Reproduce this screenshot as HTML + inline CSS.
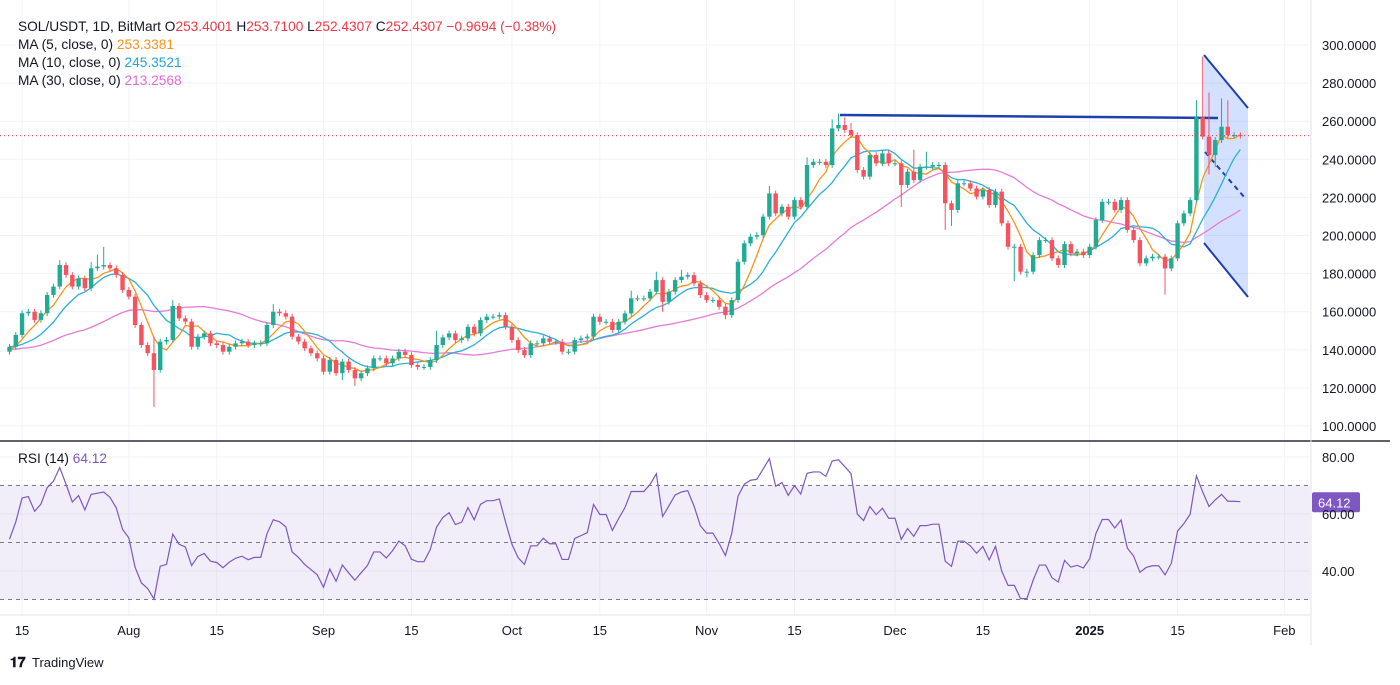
<!DOCTYPE html>
<html><head><meta charset="utf-8">
<style>
html,body{margin:0;padding:0;background:#fff;}
body{width:1400px;height:680px;overflow:hidden;font-family:"Liberation Sans",sans-serif;}
svg text{font-family:"Liberation Sans",sans-serif;}
</style></head>
<body>
<svg id="chart" width="1400" height="680" viewBox="0 0 1400 680">
  <rect x="0" y="0" width="1400" height="680" fill="#ffffff"/>
  <g id="grid"></g>
  <rect x="0" y="485.5" width="1310" height="114" fill="rgba(126,87,194,0.1)"/>
  <g id="pattern"></g>
  <g id="mas"></g>
  <g id="candles"></g>
  <g id="rsi"></g>
  <g id="axes"></g>
  <g id="legend">
    <text x="18" y="31" font-size="13.7" fill="#131722">SOL/USDT, 1D, BitMart <tspan fill="#131722">O</tspan><tspan fill="#f23645">253.4001</tspan> <tspan>H</tspan><tspan fill="#f23645">253.7100</tspan> <tspan>L</tspan><tspan fill="#f23645">252.4307</tspan> <tspan>C</tspan><tspan fill="#f23645">252.4307</tspan> <tspan fill="#f23645">−0.9694 (−0.38%)</tspan></text>
    <text x="18" y="49" font-size="13.7" fill="#131722">MA (5, close, 0) <tspan fill="#f7931a">253.3381</tspan></text>
    <text x="18" y="67" font-size="13.7" fill="#131722">MA (10, close, 0) <tspan fill="#22a7d5">245.3521</tspan></text>
    <text x="18" y="85" font-size="13.7" fill="#131722">MA (30, close, 0) <tspan fill="#e36bd6">213.2568</tspan></text>
    <text x="18" y="463" font-size="13.7" fill="#131722">RSI (14) <tspan fill="#7e57c2">64.12</tspan></text>
  </g>
  <g>
    <text x="10" y="667" font-size="14" font-weight="bold" fill="#131722">𝟏𝟕</text>
    <text x="32" y="667" font-size="13" fill="#131722">TradingView</text>
  </g>
</svg>
<script>
const preCloses=[145,148,150,140,135,133,135,137,140,145,147,150,142,140,138,133,130,128,136,140,145,150,146,140,136,138,141,140,139];
const closes=[141.6,147.8,159.2,160,155.7,159.2,168.8,173.2,184.5,179.3,
173.2,177.5,172.3,182.8,183.7,184.5,182.8,179.3,171.4,167.9,
153,142.5,138.2,129.4,144.3,145.2,163,156.5,154.8,141.6,
146.9,148.6,143.4,142.5,139,141.6,143.4,144.3,142.5,143.4,
143.4,153,160,159.2,157.4,146.9,144.3,140.8,138.2,135.5,
128.5,134.7,127.7,133.8,129.4,125,127.7,130.3,135.5,135.5,
132.9,135.5,139,137.3,132,131,131,134.6,142.5,146.5,
148.6,145.1,146,152.1,148.6,155.6,157.4,157.4,158.2,152.1,
145.1,139.9,137.2,143.4,143.4,146,144.2,144.2,139,139,
145.1,146,146.9,157.4,154.7,154.7,150.4,154.7,159.1,167,
167,167,170.5,176.6,165.2,170.5,176.6,178.4,179.2,174.9,
168.7,166.1,166.1,162.6,158.2,166.1,186.2,195.9,199.4,200.2,
209.9,222.1,211.6,215.1,209.9,218.6,215.1,237,238.7,238.7,
237,256.2,258,255.4,252.7,234.4,230.9,242.2,237.9,243.1,
237.9,237.9,226.5,233.5,229.1,236.1,236.1,237,237,216.9,
213.4,227.4,227.4,224.7,220.4,223.9,216,223,206.4,194.1,
194.1,181,181,189.7,197.6,197.6,188,184.5,195.5,190.6,
191.5,189.7,194.1,208.1,217.7,217.7,213.4,218.6,202.9,197.6,
185.4,188,188.9,188.9,182.7,188,206.4,211.6,218.6,262,
251.9,242.2,250.1,257.1,252.7,252.7,252.43];
const highDays=[8,13,14,15,23,26,42,68,99,103,107,121,127,131,132,133,134,144,146,189,190,191,193,194];
const highVals=[187,186,190,194,147,166,164,150,171,181,182,226,241,261,264,262,259,245,244,271,294,275,272,271];
const lowDays=[23,24,53,55,104,114,142,149,150,160,162,184,191,192];
const lowVals=[110,128,124,121,160,156,215,203,205,176,178,169,232,236];
const priceTicks=[300,280,260,240,220,200,180,160,140,120,100];
const rsiTicks=[80,60,40];
const dateLabels=["15","Aug","15","Sep","15","Oct","15","Nov","15","Dec","15","2025","15","Feb"];
const dateDays=[2,19,33,50,64,80,94,111,125,141,155,172,186,203];

const NS="http://www.w3.org/2000/svg";
const X=d=>9.5+d*6.28;
const Y=p=>45+(300-p)*1.905;
const RY=r=>457+(80-r)*2.85;
function mk(tag,attrs,parent){const e=document.createElementNS(NS,tag);for(const k in attrs)e.setAttribute(k,attrs[k]);parent.appendChild(e);return e;}
const grid=document.getElementById('grid'),axes=document.getElementById('axes');
priceTicks.forEach(p=>{const l=mk('line',{x1:0,x2:1310,y1:Y(p),y2:Y(p),stroke:'#f0f3fa','stroke-width':1},grid);


const t=mk('text',{x:1322,y:Y(p)+5,'font-size':13,fill:'#131722'},axes);t.textContent=p.toFixed(4);

});
rsiTicks.forEach(r=>{const l=mk('line',{x1:0,x2:1310,y1:RY(r),y2:RY(r),stroke:'#f0f3fa','stroke-width':1},grid);


const t=mk('text',{x:1322,y:RY(r)+5,'font-size':13,fill:'#131722'},axes);t.textContent=r.toFixed(2);

});
dateDays.forEach((d,i)=>{const l=mk('line',{x1:X(d),x2:X(d),y1:0,y2:615,stroke:'#f0f3fa','stroke-width':1},grid);


const t=mk('text',{x:X(d),y:635,'font-size':13,fill:'#131722','text-anchor':'middle','font-weight':dateLabels[i]==='2025'?'bold':'normal'},axes);t.textContent=dateLabels[i];

});
[[0,441,1390,441,'#2a2e39',1.5],[0,615,1310,615,'#e0e3eb',1],[1311,0,1311,645,'#e0e3eb',1]].forEach(a=>{const l=mk('line',{x1:a[0],y1:a[1],x2:a[2],y2:a[3],stroke:a[4],'stroke-width':a[5]},axes);

});
const lp=mk('line',{x1:0,x2:1310,y1:Y(closes[closes.length-1]),y2:Y(closes[closes.length-1]),stroke:'#f23645','stroke-width':1,'stroke-dasharray':'1,3'},axes);


const pat=document.getElementById('pattern');
const poly=mk('polygon',{points:'1204,55 1248,108 1248,297 1204,243',fill:'rgba(41,98,255,0.2)'},pat);


[[1204,55,1248,108,''],[1204,243,1248,297,''],[1205,152,1245,198,'5,4'],[840,115,1218,118,'']].forEach(s=>{const l=mk('line',{x1:s[0],y1:s[1],x2:s[2],y2:s[3],stroke:'#1e3fae','stroke-width':s[3]===118?2.5:2,'stroke-dasharray':s[4]},pat);

});
const all=preCloses.concat(closes);const P=preCloses.length;
function ma(n){return closes.map((c,i)=>{const j=i+P;const s=all.slice(Math.max(0,j-n+1),j+1);return s.reduce((a,b)=>a+b,0)/s.length;});}
const masG=document.getElementById('mas');
[[30,'#e57bd8'],[10,'#29b0d8'],[5,'#f7931a']].forEach(m=>{const v=ma(m[0]);
const pts=v.map((p,i)=>X(i)+','+Y(p)).join(' ');
const pl=mk('polyline',{points:pts,fill:'none',stroke:m[1],'stroke-width':1.3},masG);

});
const cg=document.getElementById('candles');
closes.forEach((c,i)=>{const o=i===0?preCloses[P-1]:(i===190?262:closes[i-1]);
let h=Math.max(o,c)+1.5,l=Math.min(o,c)-1.5;
const hi=highDays.indexOf(i);if(hi>=0)h=highVals[hi];
const li=lowDays.indexOf(i);if(li>=0)l=lowVals[li];
const col=c>=o?'#22ab94':'#f7525f';
const g=mk('g',{},cg);


mk('line',{x1:X(i),x2:X(i),y1:Y(h),y2:Y(l),stroke:col,'stroke-width':1},g);
const top=Y(Math.max(o,c)),bh=Math.max(1,Y(Math.min(o,c))-top);
mk('rect',{x:X(i)-2.2,y:top,width:4.4,height:bh,fill:col},g);});
const rg=document.getElementById('rsi');
[70,50,30].forEach(r=>{const l=mk('line',{x1:0,x2:1310,y1:RY(r),y2:RY(r),stroke:'#787b86','stroke-width':1,'stroke-dasharray':'4,4'},rg);

});
let ag=1.5,al=1.5;const rsiAll=[];
for(let i=1;i<all.length;i++){const d=all[i]-all[i-1];ag=(ag*13+Math.max(d,0))/14;al=(al*13+Math.max(-d,0))/14;rsiAll.push(100-100/(1+ag/al));}
const rsi=rsiAll.slice(P-1);
const rl=mk('polyline',{points:rsi.map((r,i)=>X(i)+','+RY(r)).join(' '),fill:'none',stroke:'#7e57c2','stroke-width':1.2},rg);


const lastR=64.12;
const rb=mk('rect',{x:1312,y:RY(lastR)-10,width:48,height:20,fill:'#7e57c2',rx:2},rg);


const rt=mk('text',{x:1318,y:RY(lastR)+5,'font-size':13,fill:'#fff'},rg);rt.textContent=lastR.toFixed(2);


</script>
</body></html>
